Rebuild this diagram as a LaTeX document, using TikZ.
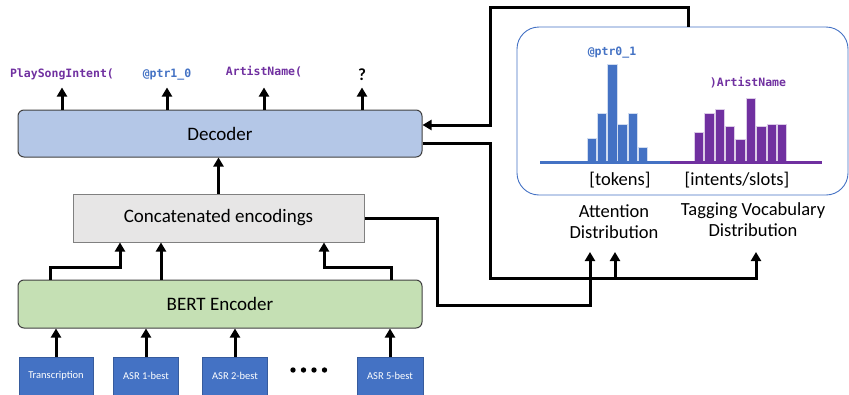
\documentclass[tikz,border=0pt]{standalone}
\usepackage{fontspec}
\setmainfont{Carlito}
\newfontfamily\monof{DejaVu Sans Mono}
\usetikzlibrary{arrows.meta}
\definecolor{cblue}{HTML}{4472C4}
\definecolor{cpurple}{HTML}{7030A0}
\definecolor{decfill}{HTML}{B4C7E7}
\definecolor{bertfill}{HTML}{C5E0B4}
\definecolor{catfill}{HTML}{E7E6E6}
\definecolor{edge}{HTML}{404040}
\begin{document}
\begin{tikzpicture}[x=1pt,y=-1pt,
  ln/.style={line width=3pt,line join=miter},
  arr/.style={ln,-{Triangle[width=10pt,length=9pt]}},
  bigbox/.style={draw=edge,line width=1pt,font=\fontsize{19pt}{22pt}\selectfont,inner sep=0pt},
  inp/.style={fill=cblue,draw=cblue!80!black,line width=0.5pt,text=white,font=\fontsize{10.5pt}{12pt}\selectfont,minimum height=38pt,inner sep=0pt},
  tok/.style={font=\monof\bfseries\fontsize{11.5pt}{13pt}\selectfont,inner sep=0pt,anchor=base},
  dlabel/.style={font=\fontsize{18.5pt}{21pt}\selectfont,align=center,inner sep=0pt},
  bar/.style={draw=white!75!cblue,line width=0.6pt}]
\useasboundingbox (0,0) rectangle (849,394);

% main boxes
\node[bigbox,fill=decfill,rounded corners=6pt,minimum width=404pt,minimum height=47pt] (dec) at (220,133.5) {Decoder};
\node[bigbox,draw=gray,fill=catfill,minimum width=291pt,minimum height=48pt] (cat) at (218.5,218) {Concatenated encodings};
\node[bigbox,fill=bertfill,rounded corners=6pt,minimum width=404pt,minimum height=48pt] (bert) at (220,304) {BERT Encoder};

% inputs
\node[inp,minimum width=74pt] (t0) at (56,376) {Transcription};
\node[inp,minimum width=65pt] (a1) at (146,376) {ASR 1-best};
\node[inp,minimum width=65pt] (a2) at (235,376) {ASR 2-best};
\node[inp,minimum width=66pt] (a5) at (390,376) {ASR 5-best};
\foreach \dx in {293,303.5,314,324.5}{\fill (\dx,370) circle (2.7pt);}

\foreach \n in {t0,a1,a2,a5}{\draw[arr] (\n.north) -- (\n.north |- bert.south);}

% outputs
\node[tok,text=cpurple] (o1) at (62,77) {PlaySongIntent(};
\node[tok,text=cblue] (o2) at (167,77) {@ptr1\_0};
\node[tok,text=cpurple] (o3) at (264,75) {ArtistName(};
\node[tok,font=\bfseries\fontsize{17pt}{18pt}\selectfont] (o4) at (362,80) {?};
\foreach \n in {o1,o2,o3,o4}{\draw[arr] (dec.north -| \n) -- ++(0,-22);}

% concat -> decoder
\draw[arr] (cat.north) -- (cat.north |- dec.south);

% bert -> concat
\coordinate (xa) at (50,0);
\coordinate (xb) at (120,267);
\coordinate (xc) at (161,0);
\coordinate (xd) at (391,0);
\coordinate (xe) at (324,267);
\draw[arr] (bert.north -| xa) |- (xb) -- (xb |- cat.south);
\draw[arr] (bert.north -| xc) -- (cat.south -| xc);
\draw[arr] (bert.north -| xd) |- (xe) -- (xe |- cat.south);

% distribution box
\node[draw=cblue,line width=0.9pt,rounded corners=22pt,minimum width=331pt,minimum height=168pt,inner sep=0pt] (dist) at (682.5,111) {};

% bars
\foreach \xx/\tp in {587/138,597.2/113,607.4/64,617.6/124,627.8/113,638/147}{
  \filldraw[bar,fill=cblue] (\xx,162) rectangle (\xx+9.4,\tp);}
\foreach \xx/\tp in {694/132,704.4/113,714.8/109,725.2/126,735.6/139,746/98,756.4/126,766.8/124,777.2/124}{
  \filldraw[bar,draw=white!75!cpurple,fill=cpurple] (\xx,162) rectangle (\xx+9.4,\tp);}
\draw[cblue,line width=3pt] (540,162) -- (670,162);
\draw[cpurple,line width=3pt] (670,162) -- (822,162);
\node[tok,text=cblue,anchor=center] (p0) at (612,53) {@ptr0\_1};
\node[tok,text=cpurple,anchor=center] (pa) at (748,83) {)ArtistName};
\node[dlabel] (tk) at (620,180) {[tokens]};
\node[dlabel] (is) at (737,180) {[intents/slots]};
\node[dlabel] (att) at (614,222) {Attention\\Distribution};
\node[dlabel] (tag) at (753,220) {Tagging Vocabulary\\Distribution};

% feedback to decoder
\coordinate (f1) at (688,7);
\coordinate (f2) at (490,7);
\coordinate (fin) at ([yshift=8.5pt]dec.east);
\draw[arr] (dist.north -| f1) -- (f1) -- (f2) |- (fin);

% decoder -> distributions
\coordinate (fout) at ([yshift=-9.5pt]dec.east);
\coordinate (g1) at (490,278);
\coordinate (g2) at (756,252);
\coordinate (g3) at (615,252);
\draw[arr] (fout) -| (g1) -| (g2);
\draw[arr] (g3 |- g1) -- (g3);

% concat -> attention
\coordinate (h1) at (437,305);
\coordinate (h2) at (590,252);
\draw[arr] (cat.east) -| (h1) -| (h2);
\end{tikzpicture}
\end{document}
